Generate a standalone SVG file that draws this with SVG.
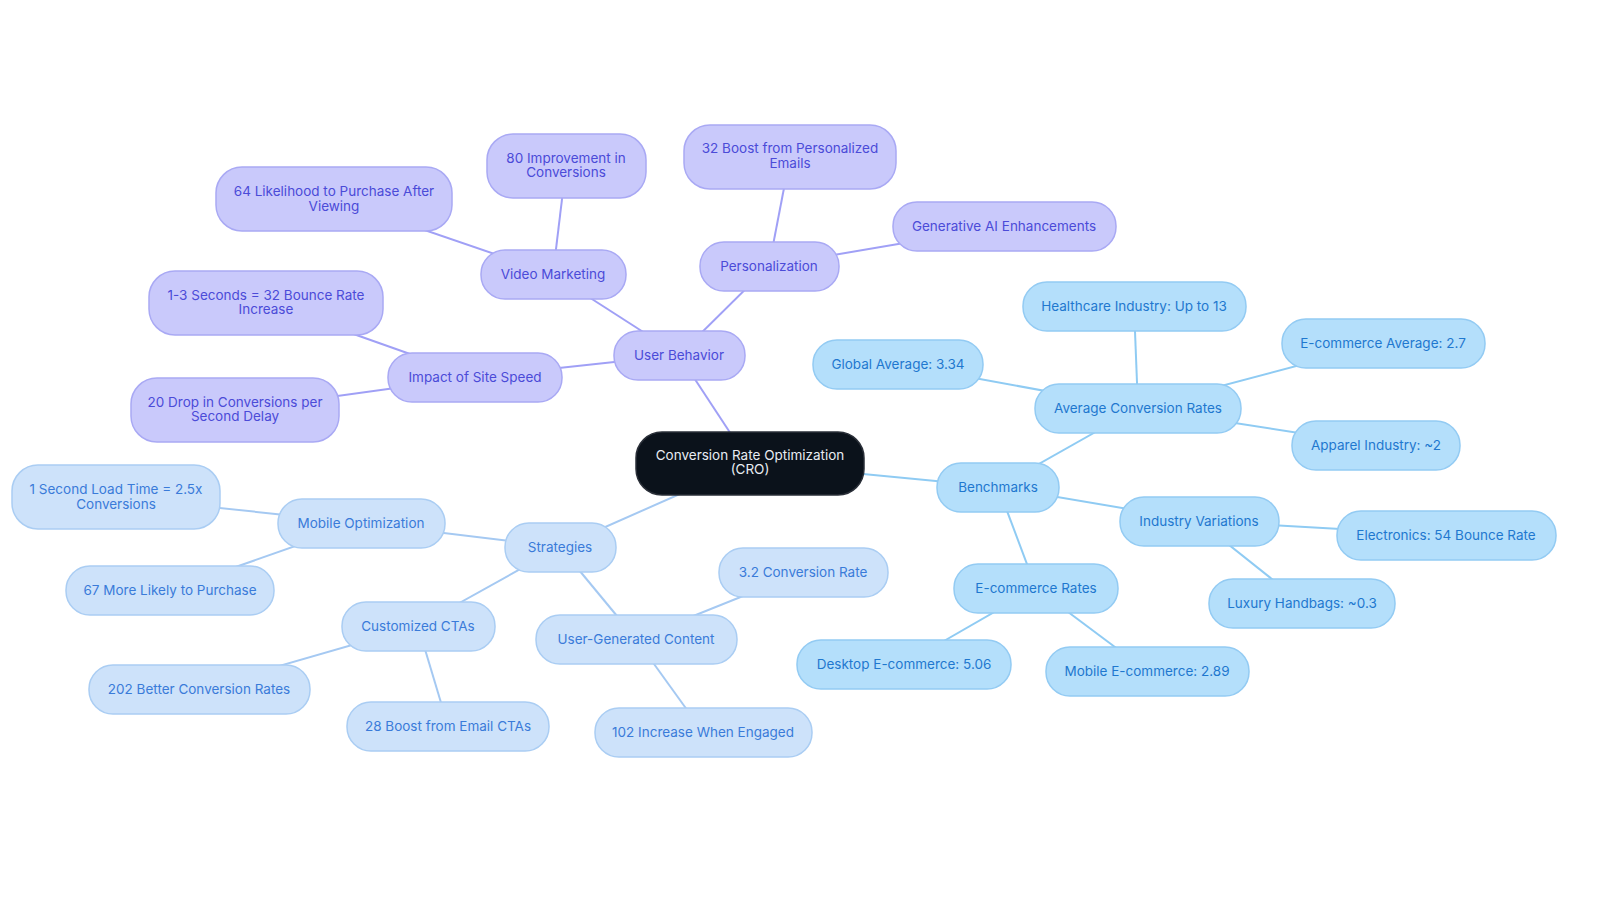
<svg xmlns="http://www.w3.org/2000/svg" width="1600" height="903" viewBox="0 0 1600 903">
<style>
text{font-family:Inter,"Noto Sans",sans-serif;font-size:13.5px;text-anchor:middle;dominant-baseline:central}
.p rect{fill:#c9c9fb;stroke:#a9a9f4;stroke-width:1.5}
.p text{fill:#4b4bd8}
.b rect{fill:#b4dffb;stroke:#93cbf3;stroke-width:1.5}
.b text{fill:#1f78cf}
.s rect{fill:#cde2fa;stroke:#aacdf3;stroke-width:1.5}
.s text{fill:#3a7bd9}
.c rect{fill:#0b121b;stroke:#2a2f38;stroke-width:1.5}
.c text{fill:#e8ecf2}
.lp{stroke:#a0a0f6;stroke-width:2;fill:none}
.lb{stroke:#8fcbf3;stroke-width:2;fill:none}
.ls{stroke:#a5c9f2;stroke-width:2;fill:none}
</style>
<rect width="1600" height="903" fill="#fff"/>
<g id="connectors">
<line class="lp" x1="750" y1="463" x2="679" y2="355"/>
<line class="lp" x1="679" y1="355" x2="553" y2="274"/>
<line class="lp" x1="553" y1="274" x2="334" y2="199"/>
<line class="lp" x1="553" y1="274" x2="566" y2="166"/>
<line class="lp" x1="679" y1="355" x2="769" y2="266"/>
<line class="lp" x1="769" y1="266" x2="790" y2="157"/>
<line class="lp" x1="769" y1="266" x2="1004" y2="226"/>
<line class="lp" x1="679" y1="355" x2="475" y2="377"/>
<line class="lp" x1="475" y1="377" x2="266" y2="303"/>
<line class="lp" x1="475" y1="377" x2="235" y2="410"/>
<line class="lb" x1="750" y1="463" x2="998" y2="487"/>
<line class="lb" x1="998" y1="487" x2="1138" y2="408"/>
<line class="lb" x1="1138" y1="408" x2="898" y2="364"/>
<line class="lb" x1="1138" y1="408" x2="1134" y2="306"/>
<line class="lb" x1="1138" y1="408" x2="1383" y2="343"/>
<line class="lb" x1="1138" y1="408" x2="1376" y2="445"/>
<line class="lb" x1="998" y1="487" x2="1199" y2="521"/>
<line class="lb" x1="1199" y1="521" x2="1446" y2="535"/>
<line class="lb" x1="1199" y1="521" x2="1302" y2="603"/>
<line class="lb" x1="998" y1="487" x2="1036" y2="588"/>
<line class="lb" x1="1036" y1="588" x2="904" y2="664"/>
<line class="lb" x1="1036" y1="588" x2="1147" y2="671"/>
<line class="ls" x1="750" y1="463" x2="560" y2="547"/>
<line class="ls" x1="560" y1="547" x2="361" y2="523"/>
<line class="ls" x1="361" y1="523" x2="116" y2="497"/>
<line class="ls" x1="361" y1="523" x2="170" y2="590"/>
<line class="ls" x1="560" y1="547" x2="418" y2="626"/>
<line class="ls" x1="418" y1="626" x2="199" y2="689"/>
<line class="ls" x1="418" y1="626" x2="448" y2="726"/>
<line class="ls" x1="560" y1="547" x2="636" y2="639"/>
<line class="ls" x1="636" y1="639" x2="803" y2="572"/>
<line class="ls" x1="636" y1="639" x2="703" y2="732"/>
</g>
<g id="n-center" class="c"><rect x="636" y="432" width="228" height="63" rx="26"/><text x="750" y="455">Conversion Rate Optimization</text><text x="750" y="469">(CRO)</text></g>
<g id="n-userbehavior" class="p"><rect x="614" y="331" width="131" height="49" rx="24"/><text x="679" y="355">User Behavior</text></g>
<g id="n-video" class="p"><rect x="481" y="250" width="145" height="49" rx="24"/><text x="553" y="274">Video Marketing</text></g>
<g id="n-64" class="p"><rect x="216" y="167" width="236" height="64" rx="26"/><text x="334" y="191">64 Likelihood to Purchase After</text><text x="334" y="206">Viewing</text></g>
<g id="n-80" class="p"><rect x="487" y="134" width="159" height="64" rx="26"/><text x="566" y="158">80 Improvement in</text><text x="566" y="172">Conversions</text></g>
<g id="n-personalization" class="p"><rect x="700" y="242" width="139" height="49" rx="24"/><text x="769" y="266">Personalization</text></g>
<g id="n-32email" class="p"><rect x="684" y="125" width="212" height="64" rx="26"/><text x="790" y="148">32 Boost from Personalized</text><text x="790" y="163">Emails</text></g>
<g id="n-genai" class="p"><rect x="893" y="202" width="223" height="49" rx="24"/><text x="1004" y="226">Generative AI Enhancements</text></g>
<g id="n-sitespeed" class="p"><rect x="388" y="353" width="174" height="49" rx="24"/><text x="475" y="377">Impact of Site Speed</text></g>
<g id="n-13sec" class="p"><rect x="149" y="271" width="234" height="64" rx="26"/><text x="266" y="295">1-3 Seconds = 32 Bounce Rate</text><text x="266" y="309">Increase</text></g>
<g id="n-20drop" class="p"><rect x="131" y="378" width="208" height="64" rx="26"/><text x="235" y="402">20 Drop in Conversions per</text><text x="235" y="416">Second Delay</text></g>
<g id="n-benchmarks" class="b"><rect x="937" y="463" width="122" height="49" rx="24"/><text x="998" y="487">Benchmarks</text></g>
<g id="n-avg" class="b"><rect x="1035" y="384" width="206" height="49" rx="24"/><text x="1138" y="408">Average Conversion Rates</text></g>
<g id="n-global" class="b"><rect x="813" y="340" width="170" height="49" rx="24"/><text x="898" y="364">Global Average: 3.34</text></g>
<g id="n-health" class="b"><rect x="1023" y="282" width="223" height="49" rx="24"/><text x="1134" y="306">Healthcare Industry: Up to 13</text></g>
<g id="n-ecavg" class="b"><rect x="1282" y="319" width="203" height="49" rx="24"/><text x="1383" y="343">E-commerce Average: 2.7</text></g>
<g id="n-apparel" class="b"><rect x="1292" y="421" width="168" height="49" rx="24"/><text x="1376" y="445">Apparel Industry: ~2</text></g>
<g id="n-industry" class="b"><rect x="1120" y="497" width="159" height="49" rx="24"/><text x="1199" y="521">Industry Variations</text></g>
<g id="n-electronics" class="b"><rect x="1337" y="511" width="219" height="49" rx="24"/><text x="1446" y="535">Electronics: 54 Bounce Rate</text></g>
<g id="n-luxury" class="b"><rect x="1209" y="579" width="186" height="49" rx="24"/><text x="1302" y="603">Luxury Handbags: ~0.3</text></g>
<g id="n-ecrates" class="b"><rect x="954" y="564" width="164" height="49" rx="24"/><text x="1036" y="588">E-commerce Rates</text></g>
<g id="n-desktop" class="b"><rect x="797" y="640" width="214" height="49" rx="24"/><text x="904" y="664">Desktop E-commerce: 5.06</text></g>
<g id="n-mobileec" class="b"><rect x="1046" y="647" width="203" height="49" rx="24"/><text x="1147" y="671">Mobile E-commerce: 2.89</text></g>
<g id="n-strategies" class="s"><rect x="505" y="523" width="111" height="49" rx="24"/><text x="560" y="547">Strategies</text></g>
<g id="n-mobileopt" class="s"><rect x="278" y="499" width="167" height="49" rx="24"/><text x="361" y="523">Mobile Optimization</text></g>
<g id="n-1sec" class="s"><rect x="12" y="465" width="208" height="64" rx="26"/><text x="116" y="489">1 Second Load Time = 2.5x</text><text x="116" y="504">Conversions</text></g>
<g id="n-67" class="s"><rect x="66" y="566" width="208" height="49" rx="24"/><text x="170" y="590">67 More Likely to Purchase</text></g>
<g id="n-ctas" class="s"><rect x="342" y="602" width="153" height="49" rx="24"/><text x="418" y="626">Customized CTAs</text></g>
<g id="n-202" class="s"><rect x="89" y="665" width="221" height="49" rx="24"/><text x="199" y="689">202 Better Conversion Rates</text></g>
<g id="n-28" class="s"><rect x="347" y="702" width="202" height="49" rx="24"/><text x="448" y="726">28 Boost from Email CTAs</text></g>
<g id="n-ugc" class="s"><rect x="536" y="615" width="201" height="49" rx="24"/><text x="636" y="639">User-Generated Content</text></g>
<g id="n-32rate" class="s"><rect x="719" y="548" width="169" height="49" rx="24"/><text x="803" y="572">3.2 Conversion Rate</text></g>
<g id="n-102" class="s"><rect x="595" y="708" width="217" height="49" rx="24"/><text x="703" y="732">102 Increase When Engaged</text></g>
</svg>
